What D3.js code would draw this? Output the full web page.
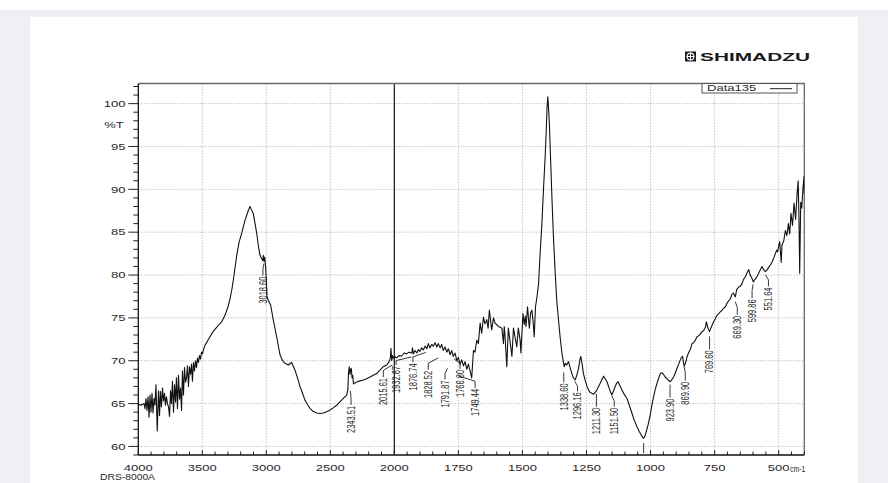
<!DOCTYPE html>
<html>
<head>
<meta charset="utf-8">
<script src="https://cdn.jsdelivr.net/npm/d3@7"></script>
<style>
  body { margin: 0; background: #fff; }
  svg { display: block; }
  text { font-family: "Liberation Sans", Arial, sans-serif; }
</style>
</head>
<body>
<svg id="chart" width="888" height="483"></svg>
<script>
// IR spectrum, Data135: wavenumber (cm-1) and transmittance (%T)
const wavenumbers = [
  4000, 3991, 3979, 3967, 3955, 3948, 3940, 3932, 3924, 3916, 3909, 3901, 3893, 3885, 3877, 3870,
  3862, 3852, 3842, 3834, 3827, 3819, 3811, 3803, 3795, 3788, 3780, 3772, 3764, 3756, 3748, 3741,
  3733, 3725, 3717, 3709, 3702, 3694, 3686, 3678, 3670, 3662, 3655, 3647, 3639, 3631, 3623, 3616,
  3608, 3600, 3592, 3584, 3577, 3569, 3561, 3553, 3545, 3538, 3530, 3522, 3514, 3506, 3498, 3491,
  3479, 3463, 3448, 3432, 3416, 3393, 3370, 3346, 3323, 3299, 3284, 3268, 3252, 3231, 3213, 3192,
  3166, 3141, 3127, 3116, 3102, 3088, 3075, 3063, 3049, 3036, 3028, 3023, 3018, 3012, 3006, 3000,
  2995, 2983, 2966, 2945, 2919, 2893, 2873, 2854, 2828, 2802, 2776, 2756, 2737, 2717, 2698, 2678,
  2659, 2635, 2606, 2580, 2555, 2528, 2502, 2477, 2450, 2425, 2398, 2372, 2363, 2358, 2352, 2346,
  2341, 2336, 2330, 2325, 2319, 2307, 2289, 2268, 2242, 2216, 2190, 2164, 2138, 2112, 2086, 2059,
  2041, 2031, 2026, 2020, 2014, 2008, 2000,
  1991, 1982, 1971, 1962, 1952, 1943, 1932, 1929, 1926, 1919, 1912, 1906, 1900, 1893, 1887, 1880,
  1873, 1867, 1861, 1854, 1848, 1841, 1834, 1828, 1821, 1815, 1809, 1802, 1795, 1789, 1782, 1776,
  1770, 1763, 1756, 1750, 1743, 1737, 1730, 1724, 1717, 1711, 1704, 1698, 1691, 1685, 1678, 1672,
  1665, 1659, 1652, 1646, 1639, 1634, 1629, 1624, 1620, 1613, 1607, 1600, 1594, 1587, 1580, 1574,
  1571, 1568, 1561, 1555, 1548, 1541, 1535, 1528, 1522, 1516, 1509, 1506, 1498, 1493, 1489, 1486,
  1480, 1476, 1473, 1468, 1463, 1458, 1454, 1449, 1443, 1437, 1431, 1424, 1418, 1411, 1407, 1404,
  1401, 1398, 1395, 1390, 1385, 1379, 1372, 1366, 1359, 1353, 1346, 1341, 1337, 1333, 1327, 1320,
  1314, 1307, 1301, 1294, 1288, 1281, 1275, 1272, 1267, 1262, 1255, 1248, 1242, 1236, 1229, 1222,
  1216, 1209, 1203, 1196, 1190, 1183, 1177, 1170, 1164, 1157, 1151, 1144, 1138, 1132, 1127, 1120,
  1112, 1103, 1092, 1083, 1073, 1064, 1053, 1045, 1037, 1032, 1027, 1022, 1017, 1009, 1001, 995,
  988, 982, 975, 969, 962, 956, 949, 943, 936, 930, 923, 917, 910, 903, 897, 890,
  884, 879, 875, 871, 868, 864, 858, 852, 845, 838, 832, 825, 819, 813, 806, 799,
  793, 786, 782, 777, 773, 770, 765, 759, 754, 747, 741, 734, 728, 721, 715, 708,
  702, 695, 689, 683, 677, 669, 664, 656, 650, 643, 637, 630, 624, 617, 611, 604,
  599, 595, 589, 583, 578, 572, 565, 560, 552, 545, 539, 532, 526, 519, 513, 508,
  504, 500, 496, 490, 487, 480, 474, 468, 462, 457, 452, 446, 440, 434, 428, 424,
  421, 418, 414, 410, 405, 401, 400
];
const transmittance = [
  64.8, 64.9, 64.8, 64.9, 65.0, 64.4, 65.6, 64.2, 65.8, 63.4, 66.0, 64.0, 66.2, 63.9, 65.6, 64.8,
  67.2, 61.8, 66.5, 63.6, 66.4, 64.6, 66.8, 65.3, 66.2, 64.8, 65.8, 65.0, 64.6, 63.5, 66.5, 65.0,
  67.6, 64.0, 67.2, 65.2, 68.0, 64.4, 68.3, 65.5, 66.8, 64.2, 68.8, 66.0, 69.2, 67.5, 68.0, 69.4,
  67.0, 69.3, 68.4, 69.6, 67.6, 69.8, 68.8, 70.0, 69.2, 70.3, 69.8, 70.6, 70.2, 71.0, 70.8, 71.3,
  71.8, 72.2, 72.6, 73.0, 73.4, 73.8, 74.2, 74.6, 75.3, 76.3, 77.2, 78.4, 80.0, 82.3, 83.8, 84.9,
  86.4, 87.5, 88.0, 87.6, 87.2, 86.0, 84.9, 83.5, 82.3, 81.9, 81.7, 82.3, 81.6, 82.1, 81.0, 79.5,
  77.5, 77.0, 76.5, 74.7, 72.8, 70.7, 70.0, 69.7, 69.5, 69.8, 68.9, 68.0, 67.0, 66.2, 65.4, 64.9,
  64.45, 64.1, 63.9, 63.85, 63.9, 64.05, 64.25, 64.5, 64.8, 65.2, 65.6, 66.0, 66.6, 68.5, 69.3, 68.4,
  69.0, 69.1, 68.0, 68.3, 67.3, 67.4, 67.55, 67.65, 67.75, 67.9, 68.1, 68.3, 68.5, 68.9, 69.3, 69.5,
  69.9, 70.3, 71.45, 70.0, 70.6, 70.3, 70.5,
  70.35, 70.6, 70.55, 70.9, 70.8, 71.0, 70.9, 71.5, 70.8, 71.2, 70.9, 71.3, 71.1, 71.5, 71.25, 71.7,
  71.4, 72.0, 71.5, 71.9, 71.7, 72.1, 71.6, 72.0, 71.5, 71.9, 71.2, 71.6, 71.0, 71.4, 70.7, 71.2,
  70.5, 70.9, 70.0, 70.4, 69.6, 70.1, 69.4, 69.9, 69.0, 69.6, 68.8, 68.0, 71.2, 71.0, 72.4, 72.0,
  74.4, 73.2, 75.1, 74.3, 74.8, 73.8, 75.9, 74.6, 73.6, 75.0, 74.4, 74.2, 74.0, 73.9, 73.8, 72.0,
  74.0, 73.0, 69.3, 73.8, 72.2, 70.5, 73.8, 72.6, 71.6, 73.8, 72.4, 70.9, 75.5, 74.2, 75.2, 74.0,
  76.3, 74.8, 73.8, 75.6, 75.9, 74.4, 72.8, 76.3, 77.5, 79.0, 82.5, 86.0, 89.9, 94.0, 96.9, 99.5,
  100.8, 99.5, 97.7, 93.5, 89.1, 84.5, 80.2, 77.0, 74.7, 72.8, 70.9, 70.0, 69.3, 69.7, 69.5, 69.9,
  69.2, 68.5, 68.0, 67.75, 68.3, 69.1, 70.2, 70.5, 69.6, 68.5, 67.7, 67.0, 66.6, 66.3, 66.2, 66.1,
  66.3, 66.6, 67.0, 67.4, 67.8, 68.2, 67.9, 67.55, 67.0, 66.4, 66.0, 66.5, 67.0, 67.4, 67.55, 67.1,
  66.6, 66.1, 65.6, 64.8, 63.9, 63.1, 62.3, 61.8, 61.35, 61.1, 60.95, 61.2, 61.7, 62.6, 63.7, 64.8,
  65.8, 66.6, 67.35, 67.9, 68.5, 68.6, 68.4, 68.1, 67.9, 67.7, 67.55, 67.8, 68.1, 68.6, 69.1, 69.6,
  70.1, 70.4, 70.5, 69.7, 69.4, 69.7, 70.4, 70.9, 71.3, 72.0, 72.1, 72.4, 72.8, 72.9, 73.1, 73.4,
  73.5, 73.9, 74.55, 73.9, 73.6, 73.4, 73.8, 74.2, 74.55, 74.9, 75.3, 75.5, 75.7, 75.9, 76.1, 76.3,
  76.7, 77.0, 77.2, 77.7, 77.9, 77.45, 78.3, 78.6, 78.7, 79.0, 79.5, 79.8, 80.2, 80.65, 80.0, 79.6,
  79.2, 79.4, 79.6, 79.9, 80.2, 80.6, 81.0, 80.7, 80.4, 80.6, 80.9, 81.2, 81.5, 82.0, 82.5, 82.9,
  82.7, 83.4, 83.9, 81.5, 83.5, 84.0, 85.2, 84.6, 86.0, 84.8, 87.2, 85.8, 88.4, 86.5, 89.5, 91.0,
  87.0, 80.2, 88.5, 87.8, 90.2, 91.5, 89.5
];

// peak-pick annotations
const peakWavenumbers = [3018.60, 2343.51, 2015.61, 1932.67, 1876.74, 1828.52, 1791.87, 1766.80, 1749.44,
  1338.60, 1296.16, 1211.30, 1151.50, 1027.0, 923.90, 869.90, 769.60, 669.30, 599.86, 551.64];
const peakTexts = ["3018.60", "2343.51", "2015.61", "1932.67", "1876.74", "1828.52", "1791.87", "1766.80", "1749.44",
  "1338.60", "1296.16", "1211.30", "1151.50", "", "923.90", "869.90", "769.60", "669.30", "599.86", "551.64"];

// axis ticks
const xTickValues = [4000, 3500, 3000, 2500, 2000, 1750, 1500, 1250, 1000, 750, 500];
const yTickValues = [60, 65, 70, 75, 80, 85, 90, 95, 100];
const legendName = "Data135";

// ---- layout ----
const W = 888, H = 483;
const plot = { left: 138.3, right: 804.3, top: 83.5, bottom: 455 };
const SX = 1.45;                       // horizontal stretch of all lettering
// annotation placement: [text dx, gap below curve, leader length]
const peakLayout = [
  [-1, 3, 12], [0.7, 19, 14], [-9, 8, 12], [-15.5, 4, 8], [-13, 5, 10], [-10, 14, 12], [-2.6, 18, 11], [6, 4, 10], [16.6, 18, 12],
  [0, 8, 10], [2.8, 2, 10], [0, 3, 13], [2.5, 1, 11], [0, 5, 10], [0, 3, 13], [1.4, 1.5, 15], [0, 5, 13], [2, 5, 13], [-1, 3, 14], [3, 3, 12]
];

const svg = d3.select("#chart");

// sheet
svg.append("rect").attr("width", W).attr("height", H).attr("fill", "#efeff4");
svg.append("rect").attr("width", W).attr("height", 10).attr("fill", "#ffffff");
svg.append("rect").attr("x", 30).attr("y", 17).attr("width", 828).attr("height", H - 17).attr("fill", "#ffffff");

// scales: the axis is expanded twofold below 2000 cm-1
const x = d3.scaleLinear().domain([4000, 2000, 400]).range([plot.left, 394.3, plot.right]);
const y = d3.scaleLinear().domain([59, 102.35]).range([plot.bottom, plot.top]);

const spectrum = wavenumbers.map((w, i) => ({ w, t: transmittance[i] }));

function stretchedText(g, px, py, str, anchor, size, opts = {}) {
  const holder = g.append("g").attr("transform", `translate(${px},${py})`);
  const t = holder.append("text")
    .attr("transform", `scale(${SX},1)`)
    .attr("text-anchor", anchor)
    .attr("font-size", size)
    .attr("fill", opts.fill || "#2a2a2a")
    .text(str);
  if (opts.weight) t.attr("font-weight", opts.weight);
  if (opts.length) t.attr("textLength", opts.length / SX).attr("lengthAdjust", "spacingAndGlyphs");
  return t;
}

// grid
const grid = svg.append("g").attr("stroke", "#b9b9b9").attr("stroke-width", 1).attr("stroke-dasharray", "1.2,1.6");
grid.selectAll("line.h").data(yTickValues).join("line")
  .attr("x1", plot.left).attr("x2", plot.right)
  .attr("y1", d => y(d)).attr("y2", d => y(d));
grid.selectAll("line.v").data(xTickValues.filter(d => d !== 4000 && d !== 2000)).join("line")
  .attr("y1", plot.top).attr("y2", plot.bottom)
  .attr("x1", d => x(d)).attr("x2", d => x(d));

// solid marker at 2000 cm-1 where the scale changes
svg.append("line").attr("x1", x(2000)).attr("x2", x(2000))
  .attr("y1", plot.top).attr("y2", plot.bottom).attr("stroke", "#111").attr("stroke-width", 1.2);

// frame
svg.append("path")
  .attr("d", `M${plot.left},${plot.top}H${plot.right}V${plot.bottom}`)
  .attr("fill", "none").attr("stroke", "#6a6a6a").attr("stroke-width", 1.3);

// y axis
const yMinor = d3.range(59, 103, 1).filter(v => v % 5 !== 0);
const yAxisG = svg.append("g").attr("stroke", "#222").attr("stroke-width", 1);
yAxisG.selectAll("line.maj").data(yTickValues).join("line")
  .attr("x1", plot.left - 10).attr("x2", plot.left).attr("y1", d => y(d)).attr("y2", d => y(d));
yAxisG.selectAll("line.min").data(yMinor).join("line")
  .attr("x1", plot.left - 5).attr("x2", plot.left).attr("y1", d => y(d)).attr("y2", d => y(d));
svg.append("line").attr("x1", plot.left).attr("x2", plot.left).attr("y1", plot.top).attr("y2", plot.bottom)
  .attr("stroke", "#111").attr("stroke-width", 1.3);
yTickValues.forEach(v => stretchedText(svg, 125.5, y(v) + 3.3, String(v), "end", 9));
stretchedText(svg, 114, y(97.5) + 3.3, "%T", "middle", 9);

// x axis
const xMinor = d3.range(4000, 2000, -100).concat(d3.range(2000, 399, -50)).filter(v => !xTickValues.includes(v));
const xAxisG = svg.append("g").attr("stroke", "#222").attr("stroke-width", 1);
xAxisG.selectAll("line.maj").data(xTickValues).join("line")
  .attr("x1", d => x(d)).attr("x2", d => x(d)).attr("y1", plot.bottom - 5).attr("y2", plot.bottom);
xAxisG.selectAll("line.min").data(xMinor).join("line")
  .attr("x1", d => x(d)).attr("x2", d => x(d)).attr("y1", plot.bottom - 3.5).attr("y2", plot.bottom);
svg.append("line").attr("x1", plot.left).attr("x2", plot.right).attr("y1", plot.bottom).attr("y2", plot.bottom)
  .attr("stroke", "#111").attr("stroke-width", 1.3);
xTickValues.forEach(v => stretchedText(svg, x(v), 471, String(v), "middle", 9));
stretchedText(svg, 790, 472, "cm-1", "start", 9, { length: 15.5 });
stretchedText(svg, 100, 479.5, "DRS-8000A", "start", 9, { length: 55 });

// spectrum
svg.append("clipPath").attr("id", "plotClip").append("rect")
  .attr("x", plot.left).attr("y", plot.top).attr("width", plot.right - plot.left).attr("height", plot.bottom - plot.top);
const line = d3.line().x(d => x(d.w)).y(d => y(d.t));
svg.append("path").datum(spectrum)
  .attr("clip-path", "url(#plotClip)")
  .attr("fill", "none").attr("stroke", "#111").attr("stroke-width", 1.1).attr("stroke-linejoin", "round")
  .attr("d", line);

// peak annotations
function valueAt(w) {
  for (let i = 0; i < spectrum.length - 1; i++) {
    const a = spectrum[i], b = spectrum[i + 1];
    if (w <= a.w && w >= b.w) return a.t + (b.t - a.t) * (a.w - w) / (a.w - b.w);
  }
  return spectrum[spectrum.length - 1].t;
}
const ann = svg.append("g").attr("clip-path", "url(#plotClip)");
peakWavenumbers.forEach((w, i) => {
  const [dx, gap, lead] = peakLayout[i];
  const px = x(w), py = y(valueAt(w));
  const y0 = py + gap, yText = y0 + lead;
  const tx = px + dx;
  const pts = dx === 0 ? [[px, y0], [px, yText]] : [[px, y0], [tx, y0 + lead * 0.45], [tx, yText]];
  ann.append("path").attr("d", d3.line()(pts)).attr("fill", "none").attr("stroke", "#222").attr("stroke-width", 0.9);
  if (peakTexts[i]) {
    ann.append("g").attr("transform", `translate(${tx},${yText + 1})`)
      .append("text")
      .attr("transform", `scale(${SX},1) rotate(-90)`)
      .attr("text-anchor", "end")
      .attr("dy", "0.35em")
      .attr("font-size", 7.5)
      .attr("fill", "#1c1c1c")
      .text(peakTexts[i]);
  }
});

// legend
svg.append("rect").attr("x", 702).attr("y", plot.top).attr("width", 95).attr("height", 9.5)
  .attr("fill", "#fff").attr("stroke", "#555").attr("stroke-width", 1);
stretchedText(svg, 707, 91.3, legendName, "start", 9);
svg.append("line").attr("x1", 770).attr("x2", 792).attr("y1", 88.7).attr("y2", 88.7)
  .attr("stroke", "#222").attr("stroke-width", 1);

// maker logo
const logo = svg.append("g");
logo.append("rect").attr("x", 685).attr("y", 51.5).attr("width", 11).attr("height", 10).attr("fill", "#1a1a1a");
logo.append("circle").attr("cx", 690.5).attr("cy", 56.5).attr("r", 3.4).attr("fill", "none").attr("stroke", "#fff").attr("stroke-width", 1.1);
logo.append("path").attr("d", "M690.5,52.6V60.4M686.6,56.5H694.4").attr("stroke", "#fff").attr("stroke-width", 1);
logo.append("text").attr("x", 700).attr("y", 60.8).attr("font-size", 10.5).attr("font-weight", "bold")
  .attr("fill", "#1a1a1a").attr("textLength", 110).attr("lengthAdjust", "spacingAndGlyphs").text("SHIMADZU");
</script>
</body>
</html>
